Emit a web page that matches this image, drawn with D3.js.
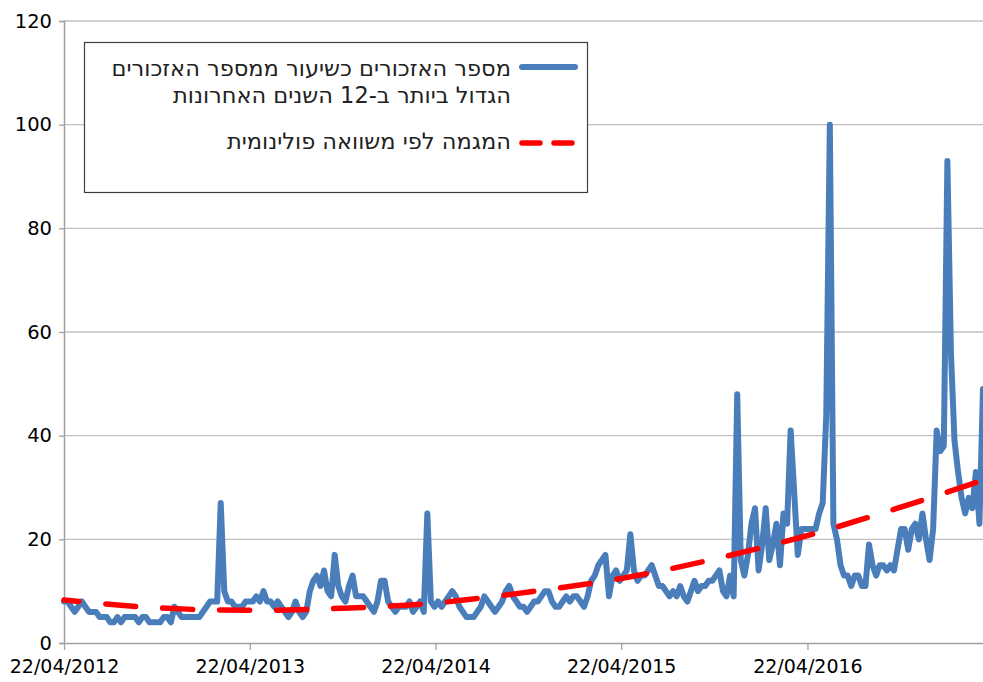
<!DOCTYPE html>
<html>
<head>
<meta charset="utf-8">
<script src="https://cdn.jsdelivr.net/npm/d3@7"></script>
<style>
  body { margin: 0; background: #fff; }
  svg { display: block; }
</style>
</head>
<body>
<svg id="chart" width="983" height="682"></svg>
<script>
// weekly counts, first week 22/04/2012
const startDate = Date.UTC(2012, 3, 22);
const weeklyValues = [
  8, 8, 7, 6, 7, 8, 7, 6, 6, 6,
  5, 5, 5, 4, 4, 5, 4, 5, 5, 5,
  5, 4, 5, 5, 4, 4, 4, 4, 5, 5,
  4, 7, 6, 5, 5, 5, 5, 5, 5, 6,
  7, 8, 8, 8, 27, 10, 8, 8, 7, 7,
  7, 8, 8, 8, 9, 8, 10, 8, 8, 7,
  8, 7, 6, 5, 6, 8, 6, 5, 6, 10,
  12, 13, 11, 14, 10, 9, 17, 11, 9, 8,
  11, 13, 9, 9, 9, 8, 7, 6, 8, 12,
  12, 8, 7, 6, 7, 7, 7, 8, 6, 7,
  8, 6, 25, 8, 7, 8, 7, 8, 9, 10,
  9, 7, 6, 5, 5, 5, 6, 7, 9, 8,
  7, 6, 7, 8, 10, 11, 9, 8, 7, 7,
  6, 7, 8, 8, 9, 10, 10, 8, 7, 7,
  8, 9, 8, 9, 9, 8, 7, 9, 12, 13,
  15, 16, 17, 9, 13, 14, 12, 13, 14, 21,
  14, 12, 13, 13, 14, 15, 13, 11, 11, 10,
  9, 10, 9, 11, 9, 8, 10, 12, 10, 11,
  11, 12, 12, 13, 14, 10, 9, 13, 9, 48,
  16, 13, 17, 23, 26, 14, 19, 26, 16, 19,
  23, 15, 25, 23, 41, 29, 17, 22, 22, 22,
  22, 22, 25, 27, 44, 100, 23, 20, 15, 13,
  13, 11, 13, 13, 11, 11, 19, 15, 13, 15,
  15, 14, 15, 14, 18, 22, 22, 18, 22, 23,
  20, 25, 20, 16, 22, 41, 37, 38, 93, 56,
  39, 33, 28, 25, 28, 26, 33, 23, 49
];

// polynomial trend, read at every 26 weeks
const trendWeeks = [0, 26, 52, 78, 104, 130, 156, 182, 208, 234, 258];
const trendValues = [8.3, 6.8, 6.3, 6.7, 7.7, 9.8, 12.4, 16.1, 20.6, 26.0, 31.4];

const yTicks = [0, 20, 40, 60, 80, 100, 120];
const xTickDates = ["2012-04-22", "2013-04-22", "2014-04-22", "2015-04-22", "2016-04-22"];

const seriesLabel = ["מספר האזכורים כשיעור ממספר האזכורים", "הגדול ביותר ב-12 השנים האחרונות"];
const trendLabel = "המגמה לפי משוואה פולינומית";

const weekDate = (i) => d3.utcDay.offset(new Date(startDate), 7 * i);

const layout = { left: 64, right: 983, top: 21, bottom: 643 };
const font = "DejaVu Sans, Verdana, sans-serif";

const svg = d3.select("#chart");

const x = d3.scaleUtc()
  .domain([new Date(startDate), weekDate(258)])
  .range([layout.left, layout.right]);

const y = d3.scaleLinear()
  .domain([0, 120])
  .range([layout.bottom, layout.top]);

// gridlines
svg.append("g")
  .selectAll("line")
  .data(yTicks.slice(1))
  .join("line")
  .attr("x1", layout.left)
  .attr("x2", layout.right)
  .attr("y1", (d) => y(d))
  .attr("y2", (d) => y(d))
  .attr("stroke", "#c0c0c0")
  .attr("stroke-width", 1.3);

// y axis
const yAxis = svg.append("g")
  .attr("transform", `translate(${layout.left},0)`)
  .call(d3.axisLeft(y).tickValues(yTicks).tickSize(5).tickPadding(7));
yAxis.select(".domain").attr("stroke", "#a0a0a0").attr("stroke-width", 1.5);
yAxis.selectAll(".tick line").attr("stroke", "#a0a0a0").attr("stroke-width", 1.3);
yAxis.selectAll("text")
  .attr("font-family", font)
  .attr("font-size", 19.5)
  .attr("fill", "#000");

// x axis
const parse = d3.utcParse("%Y-%m-%d");
const xAxis = svg.append("g")
  .attr("transform", `translate(0,${layout.bottom})`)
  .call(
    d3.axisBottom(x)
      .tickValues(xTickDates.map(parse))
      .tickFormat(d3.utcFormat("%d/%m/%Y"))
      .tickSizeInner(7)
      .tickSizeOuter(0)
      .tickPadding(10)
  );
xAxis.select(".domain").attr("stroke", "#a0a0a0").attr("stroke-width", 1.5);
xAxis.selectAll(".tick line").attr("stroke", "#a0a0a0").attr("stroke-width", 1.3);
xAxis.selectAll("text")
  .attr("font-family", font)
  .attr("font-size", 19)
  .attr("fill", "#000");

// data line
const line = d3.line()
  .x((d, i) => x(weekDate(i)))
  .y((d) => y(d));

svg.append("path")
  .datum(weeklyValues)
  .attr("d", line)
  .attr("fill", "none")
  .attr("stroke", "#4a7ebb")
  .attr("stroke-width", 6)
  .attr("stroke-linejoin", "round")
  .attr("stroke-linecap", "round");

// trend line
const trendLine = d3.line()
  .x((d, i) => x(weekDate(trendWeeks[i])))
  .y((d) => y(d))
  .curve(d3.curveMonotoneX);

svg.append("path")
  .datum(trendValues)
  .attr("d", trendLine)
  .attr("fill", "none")
  .attr("stroke", "#ff0000")
  .attr("stroke-width", 5.5)
  .attr("stroke-dasharray", "30 27")
  .attr("stroke-dashoffset", 15)
  .attr("stroke-linecap", "round");

// legend
const legend = svg.append("g");
legend.append("rect")
  .attr("x", 84.5)
  .attr("y", 42.5)
  .attr("width", 503)
  .attr("height", 150)
  .attr("fill", "#fff")
  .attr("stroke", "#404040")
  .attr("stroke-width", 1.2);

legend.append("line")
  .attr("x1", 522).attr("x2", 575)
  .attr("y1", 67).attr("y2", 67)
  .attr("stroke", "#4a7ebb")
  .attr("stroke-width", 6)
  .attr("stroke-linecap", "round");

legend.append("line")
  .attr("x1", 522).attr("x2", 577)
  .attr("y1", 143).attr("y2", 143)
  .attr("stroke", "#ff0000")
  .attr("stroke-width", 5.5)
  .attr("stroke-dasharray", "18 14")
  .attr("stroke-linecap", "round");

legend.selectAll("text.series")
  .data(seriesLabel)
  .join("text")
  .attr("class", "series")
  .attr("x", 511)
  .attr("y", (d, i) => 68 + i * 27)
  .attr("dy", "0.35em")
  .attr("direction", "rtl")
  .attr("text-anchor", "start")
  .attr("font-family", font)
  .attr("font-size", 22.5)
  .attr("fill", "#222")
  .text((d) => d);

legend.append("text")
  .attr("x", 511)
  .attr("y", 141)
  .attr("dy", "0.35em")
  .attr("direction", "rtl")
  .attr("text-anchor", "start")
  .attr("font-family", font)
  .attr("font-size", 22.5)
  .attr("fill", "#222")
  .text(trendLabel);
</script>
</body>
</html>
